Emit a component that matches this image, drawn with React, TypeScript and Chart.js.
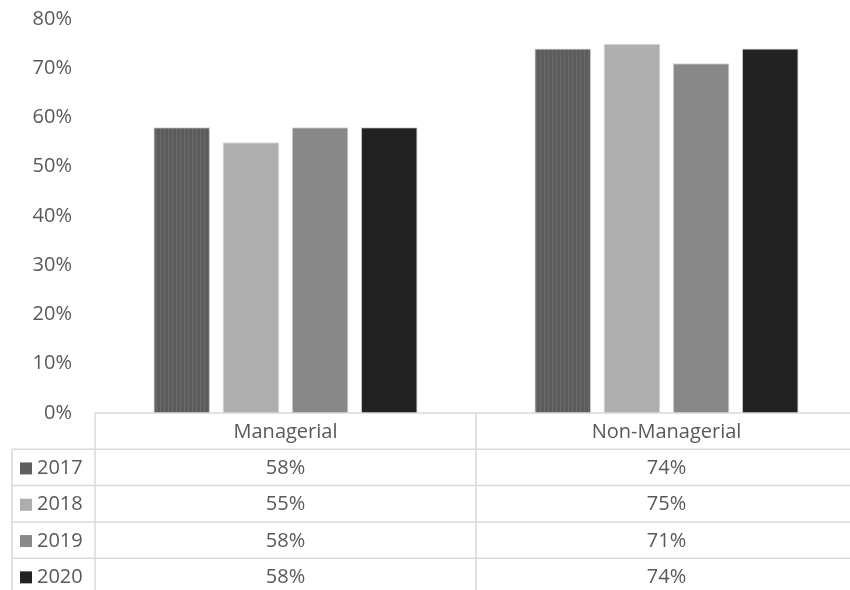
import React, { useEffect, useRef } from "react";
import { Chart, registerables } from "chart.js";

Chart.register(...registerables);

const categories = ["Managerial", "Non-Managerial"];
const seriesNames = ["2017", "2018", "2019", "2020"];
const values2017 = [58, 74];
const values2018 = [55, 75];
const values2019 = [58, 71];
const values2020 = [58, 74];
const yTicks = [0, 10, 20, 30, 40, 50, 60, 70, 80];

const FONT = "'Open Sans', 'Noto Sans', sans-serif";
const TEXT = "#595959";
const LINE = "#d9d9d9";

function stripePattern(base: string, stripe: string) {
  const c = document.createElement("canvas");
  c.width = 4;
  c.height = 4;
  const g = c.getContext("2d")!;
  g.fillStyle = base;
  g.fillRect(0, 0, 4, 4);
  g.fillStyle = stripe;
  g.fillRect(0, 0, 1, 4);
  return g.createPattern(c, "repeat")!;
}

function dotPattern(base: string, dot: string) {
  const c = document.createElement("canvas");
  c.width = 4;
  c.height = 4;
  const g = c.getContext("2d")!;
  g.fillStyle = base;
  g.fillRect(0, 0, 4, 4);
  g.fillStyle = dot;
  g.fillRect(0, 0, 1, 1);
  g.fillRect(2, 2, 1, 1);
  return g.createPattern(c, "repeat")!;
}

const tablePlugin = {
  id: "dataTable",
  afterDraw(chart: any) {
    const ctx = chart.ctx as CanvasRenderingContext2D;
    const area = chart.chartArea;
    const xs = chart.scales.x;
    const top = area.bottom;
    const rowH = 36.3;
    const legendLeft = 12;
    const n = chart.data.datasets.length;
    const bottom = top + rowH * (n + 1);
    const right = area.right;
    ctx.save();
    ctx.strokeStyle = LINE;
    ctx.lineWidth = 1.5;
    ctx.beginPath();
    ctx.moveTo(area.left, top);
    ctx.lineTo(right, top);
    for (let r = 1; r <= n + 1; r++) {
      const y = top + rowH * r;
      ctx.moveTo(legendLeft, y);
      ctx.lineTo(right, y);
    }
    const nCat = chart.data.labels.length;
    const catW = (area.right - area.left) / nCat;
    for (let i = 0; i <= nCat; i++) {
      const x = area.left + catW * i;
      ctx.moveTo(x, top);
      ctx.lineTo(x, bottom);
    }
    ctx.moveTo(legendLeft, top + rowH);
    ctx.lineTo(legendLeft, bottom);
    ctx.stroke();

    ctx.fillStyle = TEXT;
    ctx.font = `20px ${FONT}`;
    ctx.textAlign = "center";
    ctx.textBaseline = "middle";
    (chart.data.labels as string[]).forEach((lab, i) => {
      const cx = xs.getPixelForValue(i);
      ctx.fillText(lab, cx, top + rowH / 2 + 1);
    });
    chart.data.datasets.forEach((ds: any, r: number) => {
      const cy = top + rowH * (r + 1) + rowH / 2 + 1;
      ds.data.forEach((v: number, i: number) => {
        const cx = xs.getPixelForValue(i);
        ctx.fillStyle = TEXT;
        ctx.textAlign = "center";
        ctx.fillText(v + "%", cx, cy);
      });
      ctx.fillStyle = ds.legendColor;
      ctx.fillRect(20, cy - 6, 12, 12);
      ctx.fillStyle = TEXT;
      ctx.textAlign = "left";
      ctx.fillText(ds.label, 37, cy);
    });
    ctx.restore();
  },
};

export default function App() {
  const ref = useRef<HTMLCanvasElement>(null);
  useEffect(() => {
    const canvas = ref.current!;
    const seriesValues = [values2017, values2018, values2019, values2020];
    const fills: any[] = [
      stripePattern("#5c5c5c", "#6a6a6a"),
      dotPattern("#b0b0b0", "#a2a2a2"),
      "#888888",
      "#222222",
    ];
    const legendColors = ["#5f5f5f", "#adadad", "#888888", "#222222"];
    const chart = new Chart(canvas, {
      type: "bar",
      data: {
        labels: categories,
        datasets: seriesNames.map((name, i) => ({
          label: name,
          data: seriesValues[i],
          backgroundColor: fills[i],
          borderColor: "#d6d6d6",
          borderWidth: 1,
          legendColor: legendColors[i],
          categoryPercentage: 0.726,
          barPercentage: 0.82,
        })) as any,
      },
      options: {
        responsive: false,
        animation: false,
        layout: { padding: { top: 3, bottom: 191, right: 3, left: 0 } },
        plugins: { legend: { display: false }, tooltip: { enabled: false } },
        scales: {
          x: { display: false },
          y: {
            min: 0,
            max: 80,
            afterFit(scale: any) {
              scale.width = 95;
            },
            afterBuildTicks(scale: any) {
              scale.ticks = yTicks.map((v) => ({ value: v }));
            },
            grid: { display: false, drawTicks: false },
            border: { display: false },
            ticks: {
              padding: 23,
              color: TEXT,
              font: { family: FONT, size: 20 },
              callback: (v: any) => v + "%",
            },
          },
        },
      },
      plugins: [tablePlugin],
    });
    return () => chart.destroy();
  }, []);
  return (
    <div
      style={{
        position: "absolute",
        left: 0,
        top: 0,
        width: 850,
        height: 590,
        overflow: "hidden",
        background: "#fff",
      }}
    >
      <canvas
        ref={ref}
        width={860}
        height={620}
        style={{ display: "block", position: "absolute", left: 0, top: -16 }}
      />
    </div>
  );
}
